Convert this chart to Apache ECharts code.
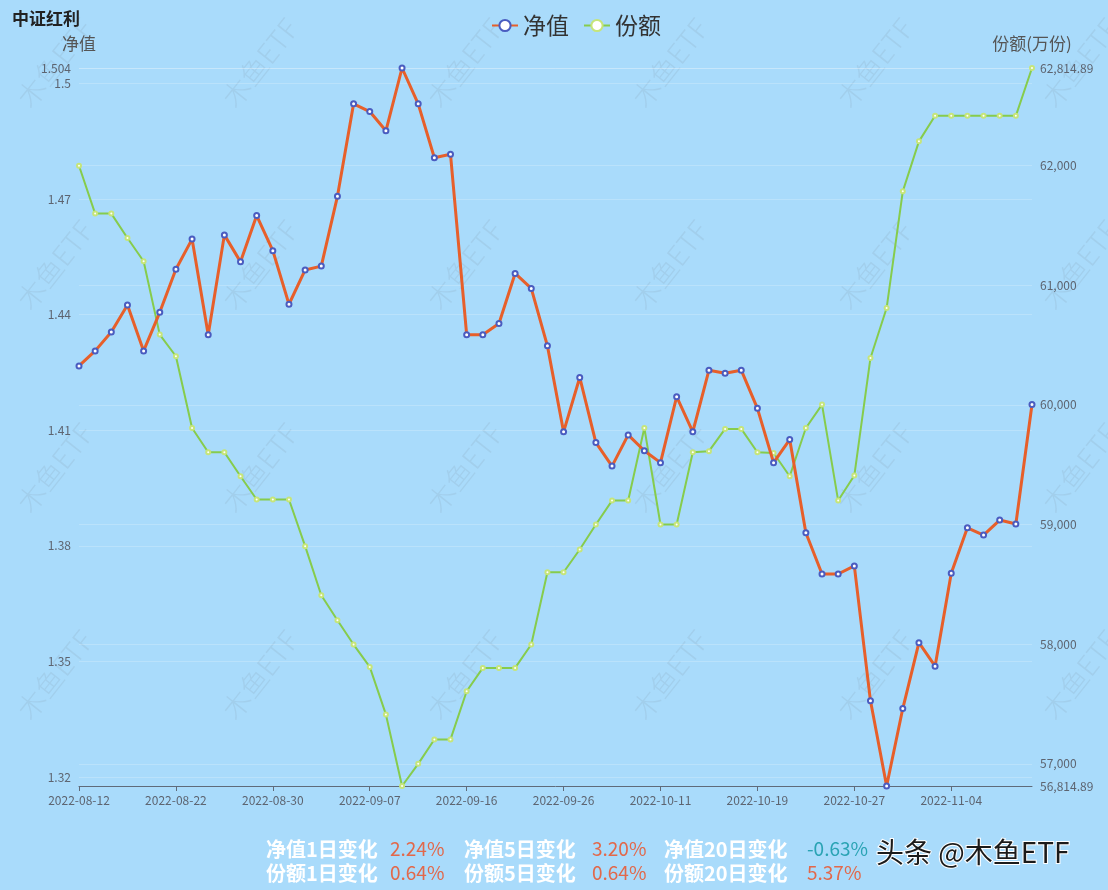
<!DOCTYPE html>
<html>
<head>
<meta charset="utf-8">
<script src="https://cdn.jsdelivr.net/npm/echarts@6/dist/echarts.min.js"></script>
<style>
html,body{margin:0;padding:0;background:#a9dbfb;}
#c{width:1108px;height:890px;}
</style>
</head>
<body>
<div id="c"></div>
<script>
// ---- data ----
const dates = [
  '2022-08-12','2022-08-15','2022-08-16','2022-08-17','2022-08-18','2022-08-19',
  '2022-08-22','2022-08-23','2022-08-24','2022-08-25','2022-08-26','2022-08-29',
  '2022-08-30','2022-08-31','2022-09-01','2022-09-02','2022-09-05','2022-09-06',
  '2022-09-07','2022-09-08','2022-09-09','2022-09-13','2022-09-14','2022-09-15',
  '2022-09-16','2022-09-19','2022-09-20','2022-09-21','2022-09-22','2022-09-23',
  '2022-09-26','2022-09-27','2022-09-28','2022-09-29','2022-09-30','2022-10-10',
  '2022-10-11','2022-10-12','2022-10-13','2022-10-14','2022-10-17','2022-10-18',
  '2022-10-19','2022-10-20','2022-10-21','2022-10-24','2022-10-25','2022-10-26',
  '2022-10-27','2022-10-28','2022-10-31','2022-11-01','2022-11-02','2022-11-03',
  '2022-11-04','2022-11-07','2022-11-08','2022-11-09','2022-11-10','2022-11-11'
];
const navValues = [
  1.4267,1.4306,1.4355,1.4425,1.4306,1.4406,1.4518,1.4596,1.4348,1.4607,
  1.4537,1.4657,1.4566,1.4427,1.4516,1.4526,1.4707,1.4947,1.4927,1.4877,
  1.5040,1.4947,1.4807,1.4816,1.4348,1.4348,1.4377,1.4507,1.4468,1.4319,
  1.4096,1.4237,1.4068,1.4007,1.4088,1.4047,1.4016,1.4187,1.4096,1.4256,
  1.4248,1.4256,1.4157,1.4016,1.4076,1.3834,1.3727,1.3727,1.3748,1.3398,
  1.3177,1.3378,1.3549,1.3488,1.3729,1.3847,1.3828,1.3867,1.3857,1.4167
];
const shareValues = [
  61998,61598,61598,61394,61200,60587,60406,59807,59604,59604,
  59403,59209,59209,59209,58819,58409,58200,57997,57810,57413,
  56814.89,57000,57204,57204,57607,57802,57802,57802,57997,58601,
  58601,58791,59000,59200,59200,59807,59000,59000,59604,59613,
  59799,59799,59604,59598,59403,59807,60002,59200,59409,60392,
  60809,61784,62202,62415.4,62415.4,62415.4,62415.4,62415.4,62415.4,62814.89
];
const seriesNames = ['净值','份额'];
const titleText = '中证红利';
const statRow1Labels = ['净值1日变化','净值5日变化','净值20日变化'];
const statRow1Values = ['2.24%','3.20%','-0.63%'];
const statRow2Labels = ['份额1日变化','份额5日变化','份额20日变化'];
const statRow2Values = ['0.64%','0.64%','5.37%'];
const watermarkText = '木鱼ETF';
const creditText = '头条 @木鱼ETF';

// ---- layout / styling ----
const FONT = '"Noto Sans CJK SC","Noto Sans",sans-serif';
const labelXs = [266, 464, 664];
const valueXs = [390, 592, 807];
const rowYs = [849, 873];
const posColor = '#e2684a';
const negColor = '#2aa3b4';

function valColor(v){ return v.trim().startsWith('-') ? negColor : posColor; }

const graphics = [];
// watermark
const wmCols = [55, 260, 465, 670, 875, 1080];
const wmRows = [63, 265, 468, 675];
wmRows.forEach(function(y){
  wmCols.forEach(function(x){
    graphics.push({
      type:'text', x:x, y:y, rotation:0.9, silent:true, z:0,
      style:{text:watermarkText, fill:'rgba(120,135,150,0.14)', font:'300 28px ' + FONT,
             align:'center', verticalAlign:'middle'}
    });
  });
});
[[statRow1Labels, statRow1Values],[statRow2Labels, statRow2Values]].forEach(function(row, ri){
  row[0].forEach(function(t, i){
    graphics.push({type:'text', x:labelXs[i], y:rowYs[ri], z:10,
      style:{text:t, fill:'#ffffff', font:'bold 20px ' + FONT, verticalAlign:'middle'}});
  });
  row[1].forEach(function(t, i){
    graphics.push({type:'text', x:valueXs[i], y:rowYs[ri], z:10,
      style:{text:t, fill:valColor(t), font:'normal 19px ' + FONT, verticalAlign:'middle'}});
  });
});
graphics.push({type:'text', x:876, y:852, z:10,
  style:{text:creditText, fill:'#1b1b1b', font:'normal 28px ' + FONT, verticalAlign:'middle',
         stroke:'#ffffff', lineWidth:2}});

const chart = echarts.init(document.getElementById('c'));
chart.setOption({
  backgroundColor:'#a9dbfb',
  textStyle:{fontFamily:FONT},
  animation:false,
  title:{text:titleText, left:12, top:10, padding:0,
    textStyle:{fontSize:17, fontWeight:'bold', color:'#222', fontFamily:FONT}},
  legend:{data:seriesNames, left:486, top:9, itemWidth:26, itemHeight:14, itemGap:14,
    textStyle:{fontSize:23, color:'#333', fontFamily:FONT}},
  grid:{left:79, right:76, top:68, bottom:104},
  xAxis:{
    type:'category', data:dates, boundaryGap:false,
    axisLine:{lineStyle:{color:'#5f6b7a'}},
    axisTick:{interval:5, lineStyle:{color:'#5f6b7a'}},
    axisLabel:{interval:5, fontSize:12, color:'#5d6470'},
    splitLine:{show:false}
  },
  yAxis:[
    {type:'value', name:'净值', min:'dataMin', max:'dataMax', splitNumber:6,
     nameGap:16, nameTextStyle:{fontSize:17, color:'#555', fontFamily:FONT},
     axisLabel:{fontSize:12, color:'#5d6470', showMinLabel:false, showMaxLabel:true},
     axisLine:{show:false}, axisTick:{show:false},
     splitLine:{lineStyle:{color:'rgba(255,255,255,0.2)'}}},
    {type:'value', name:'份额(万份)', min:'dataMin', max:'dataMax', splitNumber:6,
     nameGap:16, nameTextStyle:{fontSize:17, color:'#555', fontFamily:FONT},
     axisLabel:{fontSize:12, color:'#5d6470', showMinLabel:true, showMaxLabel:true},
     axisLine:{show:false}, axisTick:{show:false},
     splitLine:{lineStyle:{color:'rgba(255,255,255,0.2)'}}}
  ],
  series:[
    {name:seriesNames[0], type:'line', yAxisIndex:0, data:navValues, z:4,
     symbol:'emptyCircle', symbolSize:5, showAllSymbol:true,
     lineStyle:{color:'#e75f2a', width:3},
     itemStyle:{color:'#4a5cc0', borderWidth:1.5}},
    {name:seriesNames[1], type:'line', yAxisIndex:1, data:shareValues, z:3,
     symbol:'emptyCircle', symbolSize:4, showAllSymbol:true,
     lineStyle:{color:'#86cc4c', width:2},
     itemStyle:{color:'#c6e57a', borderWidth:1.2}}
  ],
  graphic:graphics
});
</script>
</body>
</html>
